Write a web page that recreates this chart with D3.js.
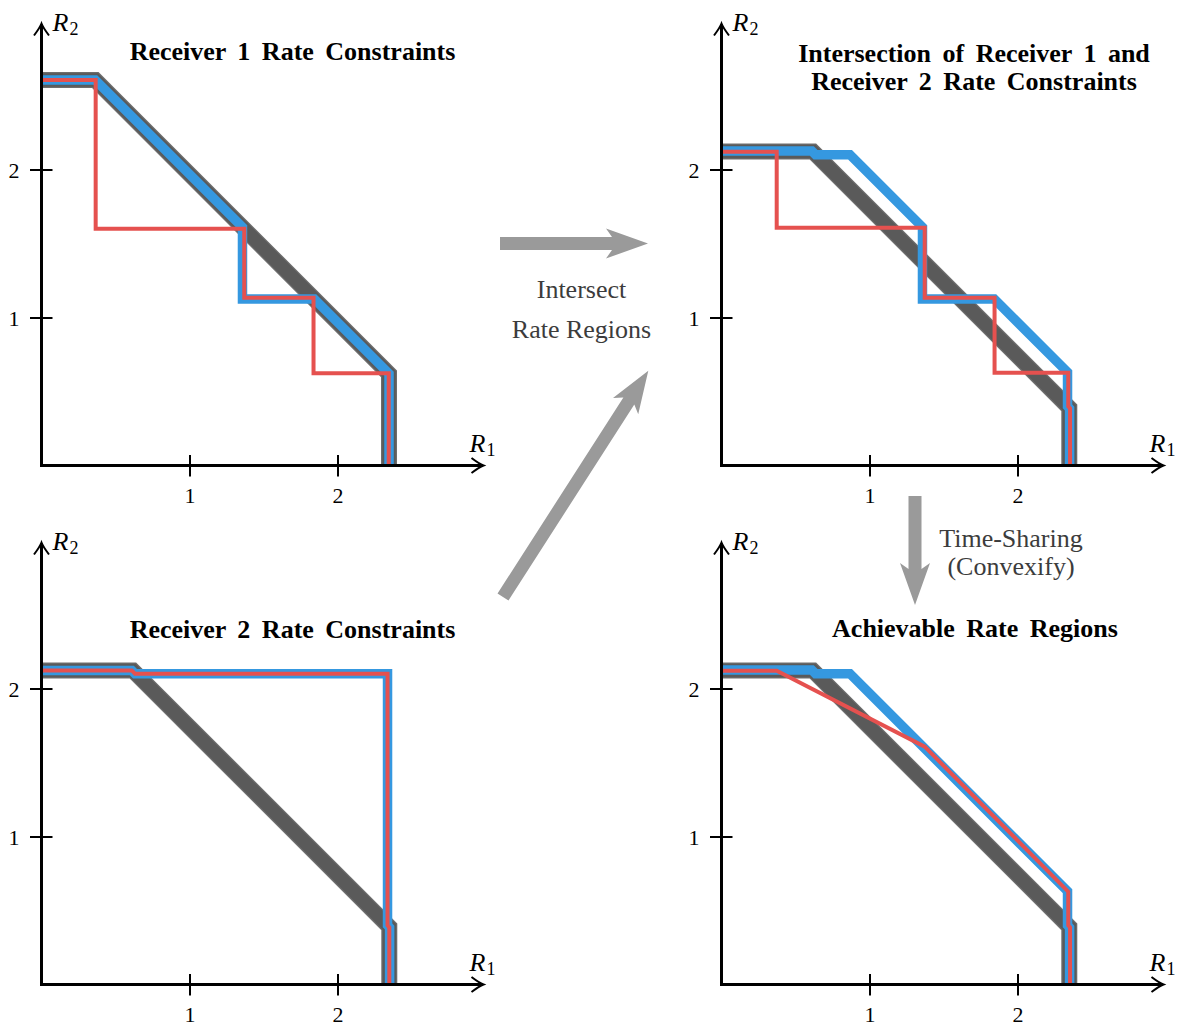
<!DOCTYPE html>
<html><head><meta charset="utf-8">
<script src="https://cdn.jsdelivr.net/npm/d3@7"></script>
<style>body{margin:0;background:#fff} svg{display:block}</style>
</head><body>
<svg id="c" width="1185" height="1027"></svg>
<script>
// ---- tick data ----
const xTicks = [1, 2];
const yTicks = [1, 2];
const tickLabels = ["1", "2"];

// ---- Receiver 1 panel (R1, R2) ----
const rx1Gray = [[0,2.605],[0.363,2.605],[2.348,0.62],[2.348,0]];
const rx1Blue = [[0,2.605],[0.363,2.605],[1.358,1.61],[1.358,1.125],[1.843,1.125],[2.348,0.62],[2.348,0]];
const rx1Red  = [[0,2.605],[0.366,2.605],[0.366,1.60],[1.37,1.60],[1.37,1.133],[1.838,1.133],[1.838,0.623],[2.346,0.623],[2.346,0]];

// ---- Intersection panel ----
const intGray = [[0,2.122],[0.617,2.122],[2.35,0.39],[2.35,0]];
const intBlue = [[0,2.125],[0.61,2.125],[0.635,2.10],[0.868,2.10],[1.358,1.61],[1.358,1.125],[1.843,1.125],[2.338,0.63],[2.338,0.40],[2.352,0.385],[2.352,0]];
const intRed  = [[0,2.12],[0.373,2.12],[0.373,1.607],[1.373,1.607],[1.373,1.133],[1.845,1.133],[1.845,0.627],[2.343,0.627],[2.343,0.40],[2.355,0.385],[2.355,0]];

// ---- Receiver 2 panel ----
const rx2Gray = [[0,2.122],[0.617,2.122],[2.35,0.39],[2.35,0]];
const rx2Blue = [[0,2.122],[0.61,2.122],[0.632,2.099],[2.338,2.099],[2.338,0.40],[2.352,0.385],[2.352,0]];
const rx2Red  = [[0,2.122],[0.61,2.122],[0.632,2.099],[2.338,2.099],[2.338,0.40],[2.35,0.385],[2.35,0]];

// ---- Achievable panel ----
const achGray = [[0,2.122],[0.617,2.122],[2.35,0.39],[2.35,0]];
const achBlue = [[0,2.125],[0.61,2.125],[0.635,2.10],[0.868,2.10],[2.338,0.63],[2.338,0.40],[2.352,0.385],[2.352,0]];
const achRed  = [[0,2.12],[0.373,2.12],[1.373,1.607],[2.343,0.627],[2.343,0.40],[2.355,0.385],[2.355,0]];

const titles = {
  rx1: ["Receiver 1 Rate Constraints"],
  int: ["Intersection of Receiver 1 and", "Receiver 2 Rate Constraints"],
  rx2: ["Receiver 2 Rate Constraints"],
  ach: ["Achievable Rate Regions"]
};

const svg = d3.select("#c");
const x = d3.scaleLinear().domain([0, 3]).range([0, 444]);
const y = d3.scaleLinear().domain([0, 3]).range([0, -444]);
const line = d3.line().x(d => x(d[0])).y(d => y(d[1]));

const SERIF = "Liberation Serif, Times New Roman, serif";
const GRAY = "#5a5a5a", BLUE = "#3598e0", RED = "#e5514f";

const panels = [
  {ox: 41.5,  oy: 465.5, gray: rx1Gray, blue: rx1Blue, red: rx1Red, title: titles.rx1, tx: 251,   ty: [-405.5]},
  {ox: 721.5, oy: 465.5, gray: intGray, blue: intBlue, red: intRed, title: titles.int, tx: 252.5, ty: [-404, -375.5]},
  {ox: 41.5,  oy: 984.5, gray: rx2Gray, blue: rx2Blue, red: rx2Red, title: titles.rx2, tx: 251,   ty: [-346.5]},
  {ox: 721.5, oy: 984.5, gray: achGray, blue: achBlue, red: achRed, title: titles.ach, tx: 253.5, ty: [-348]}
];

panels.forEach(p => {
  const g = svg.append("g").attr("transform", `translate(${p.ox},${p.oy})`);
  g.append("path").datum(p.gray).attr("d", line).attr("fill", "none")
    .attr("stroke", "#6e6e6e").attr("stroke-width", 16).attr("stroke-linejoin", "miter");
  g.append("path").datum(p.gray).attr("d", line).attr("fill", "none")
    .attr("stroke", GRAY).attr("stroke-width", 13.5).attr("stroke-linejoin", "miter");
  g.append("path").datum(p.blue).attr("d", line).attr("fill", "none")
    .attr("stroke", BLUE).attr("stroke-width", 9.5).attr("stroke-linejoin", "miter");
  g.append("path").datum(p.red).attr("d", line).attr("fill", "none")
    .attr("stroke", RED).attr("stroke-width", 4).attr("stroke-linejoin", "miter");

  // axes
  const gx = g.append("g").call(d3.axisBottom(x).tickValues(xTicks)
      .tickFormat((d, i) => tickLabels[i]).tickSizeOuter(0));
  gx.attr("font-family", SERIF).attr("font-size", 22);
  gx.select(".domain").remove();
  gx.selectAll(".tick line").attr("y1", -10.5).attr("y2", 11).attr("stroke", "#000").attr("stroke-width", 2);
  gx.selectAll(".tick text").attr("y", 37.5).attr("dy", 0)
    .style("font-family", SERIF).style("font-size", "22px").attr("fill", "#000");

  const gy = g.append("g").call(d3.axisLeft(y).tickValues(yTicks)
      .tickFormat((d, i) => tickLabels[i]).tickSizeOuter(0));
  gy.attr("font-family", SERIF).attr("font-size", 22);
  gy.select(".domain").remove();
  gy.selectAll(".tick line").attr("x1", -11.5).attr("x2", 11).attr("stroke", "#000").attr("stroke-width", 2);
  gy.selectAll(".tick text").attr("x", -27.5).attr("dy", 0).attr("y", 7.5)
    .attr("text-anchor", "middle")
    .style("font-family", SERIF).style("font-size", "22px").attr("fill", "#000");

  g.append("line").attr("x1", -1.5).attr("y1", 0).attr("x2", 441).attr("y2", 0)
    .attr("stroke", "#000").attr("stroke-width", 3);
  g.append("line").attr("x1", 0).attr("y1", 1.5).attr("x2", 0).attr("y2", -441)
    .attr("stroke", "#000").attr("stroke-width", 3);
  const head = "M -12,-7.5 Q -4,-1.5 0,0 Q -4,1.5 -12,7.5";
  g.append("path").attr("d", head).attr("transform", "translate(442,0)")
    .attr("fill", "none").attr("stroke", "#000").attr("stroke-width", 2);
  g.append("path").attr("d", head).attr("transform", "translate(0,-442) rotate(-90)")
    .attr("fill", "none").attr("stroke", "#000").attr("stroke-width", 2);

  // axis labels
  const l2 = g.append("text").attr("x", 11).attr("y", -435)
    .style("font-family", SERIF).style("font-size", "26px").attr("fill", "#000");
  l2.append("tspan").attr("font-style", "italic").text("R");
  l2.append("tspan").style("font-size", "18px").attr("dx", 1).attr("dy", 4).text("2");
  const l1 = g.append("text").attr("x", 428).attr("y", -14)
    .style("font-family", SERIF).style("font-size", "26px").attr("fill", "#000");
  l1.append("tspan").attr("font-style", "italic").text("R");
  l1.append("tspan").style("font-size", "18px").attr("dx", 1).attr("dy", 4).text("1");

  // title
  p.title.forEach((t, i) => {
    g.append("text").attr("x", p.tx).attr("y", p.ty[i]).attr("text-anchor", "middle")
      .style("font-family", SERIF).attr("font-weight", "bold").style("font-size", "26px")
      .attr("word-spacing", 5).attr("fill", "#000").text(t);
  });
});

// ---- transition arrows ----
function bigArrow(x1, y1, x2, y2) {
  const L = Math.hypot(x2 - x1, y2 - y1);
  const a = Math.atan2(y2 - y1, x2 - x1) * 180 / Math.PI;
  const pts = [[0,-6.5],[L-36,-6.5],[L-42,-15],[L,0],[L-42,15],[L-36,6.5],[0,6.5]];
  svg.append("path").attr("d", "M" + pts.map(p => p.join(",")).join("L") + "Z")
    .attr("transform", `translate(${x1},${y1}) rotate(${a})`)
    .attr("fill", "#9a9a9a");
}
bigArrow(500, 243.5, 648, 243.5);
bigArrow(503, 597, 648.3, 370.7);
bigArrow(915, 496, 915, 605);

const ann = [
  {t: "Intersect", x: 581.5, y: 298},
  {t: "Rate Regions", x: 581.5, y: 338},
  {t: "Time-Sharing", x: 1011, y: 547},
  {t: "(Convexify)", x: 1011, y: 575}
];
ann.forEach(a => svg.append("text").attr("x", a.x).attr("y", a.y).attr("text-anchor", "middle")
  .style("font-family", SERIF).style("font-size", "26px").attr("fill", "#3c3c3c").text(a.t));
</script>
</body></html>
